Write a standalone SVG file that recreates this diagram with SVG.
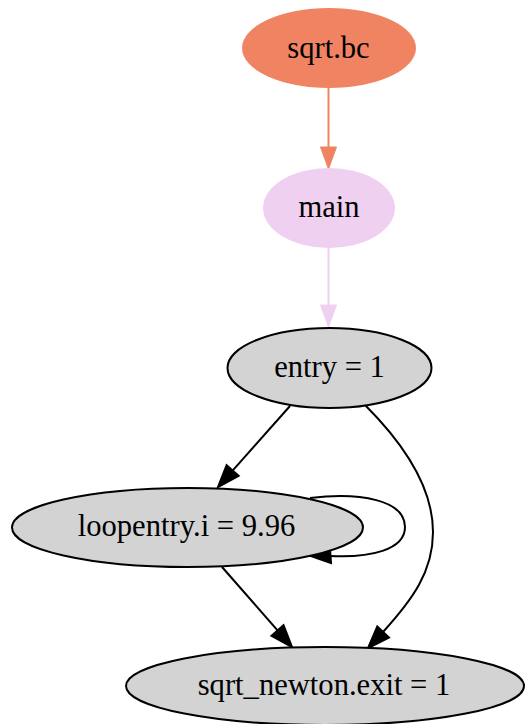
<svg xmlns="http://www.w3.org/2000/svg" width="528" height="724" viewBox="0 0 528 724">
<style>
.lbl{font-family:"Liberation Serif","Times New Roman",serif;font-size:30.6px;fill:#000;text-anchor:middle}
.gray{fill:#d3d3d3;stroke:#000;stroke-width:2}
.edge{fill:none;stroke:#000;stroke-width:2}
.head{fill:#000;stroke:#000;stroke-width:2}
</style>
<rect width="528" height="724" fill="#fff"/>
<g id="connectors">
<g id="e_sqrtbc_main">
<path d="M328.5,88 L328.5,147" fill="none" stroke="#f08462" stroke-width="2"/>
<polygon points="320.5,147 328.5,169 336.5,147" fill="#f08462" stroke="#f08462" stroke-width="1"/>
</g>
<g id="e_main_entry">
<path d="M328.5,248 L328.5,305" fill="none" stroke="#f0d0f0" stroke-width="2"/>
<polygon points="320.5,305 328.5,327 336.5,305" fill="#f0d0f0" stroke="#f0d0f0" stroke-width="1"/>
</g>
<g id="e_entry_loop">
<path class="edge" d="M290,406 L232.6,470.6"/>
<polygon class="head" points="238.6,475.9 218,487 226.6,465.3"/>
</g>
<g id="e_entry_exit">
<path class="edge" d="M365,405 C410,450 433,492 433,532 C433,572 412,600 383,632"/>
<polygon class="head" points="388.9,637.5 368,648 377.3,626.5"/>
</g>
<g id="e_loop_loop">
<path class="edge" d="M310,498 C360,492 405,500 405,527 C405,550 370,558 330,556"/>
<polygon class="head" points="330,548 308,555 331,563"/>
</g>
<g id="e_loop_exit">
<path class="edge" d="M222,567 L277.5,630.4"/>
<polygon class="head" points="283.5,625.1 292,647 271.5,635.7"/>
</g>
</g>
<g id="n_sqrtbc">
<ellipse cx="329" cy="48" rx="87" ry="40" fill="#f08462"/>
<text class="lbl" x="328.5" y="58">sqrt.bc</text>
</g>
<g id="n_main">
<ellipse cx="329" cy="208" rx="66" ry="40" fill="#f0d0f0"/>
<text class="lbl" x="329" y="217">main</text>
</g>
<g id="n_entry">
<ellipse class="gray" cx="329.5" cy="368" rx="102" ry="40"/>
<text class="lbl" x="329.5" y="377">entry = 1</text>
</g>
<g id="n_loopentry">
<ellipse class="gray" cx="187.5" cy="527.5" rx="175.5" ry="39.5"/>
<text class="lbl" x="186.5" y="536">loopentry.i = 9.96</text>
</g>
<g id="n_exit">
<ellipse class="gray" cx="325" cy="686" rx="199" ry="39"/>
<text class="lbl" x="324" y="695">sqrt_newton.exit = 1</text>
</g>
</svg>
